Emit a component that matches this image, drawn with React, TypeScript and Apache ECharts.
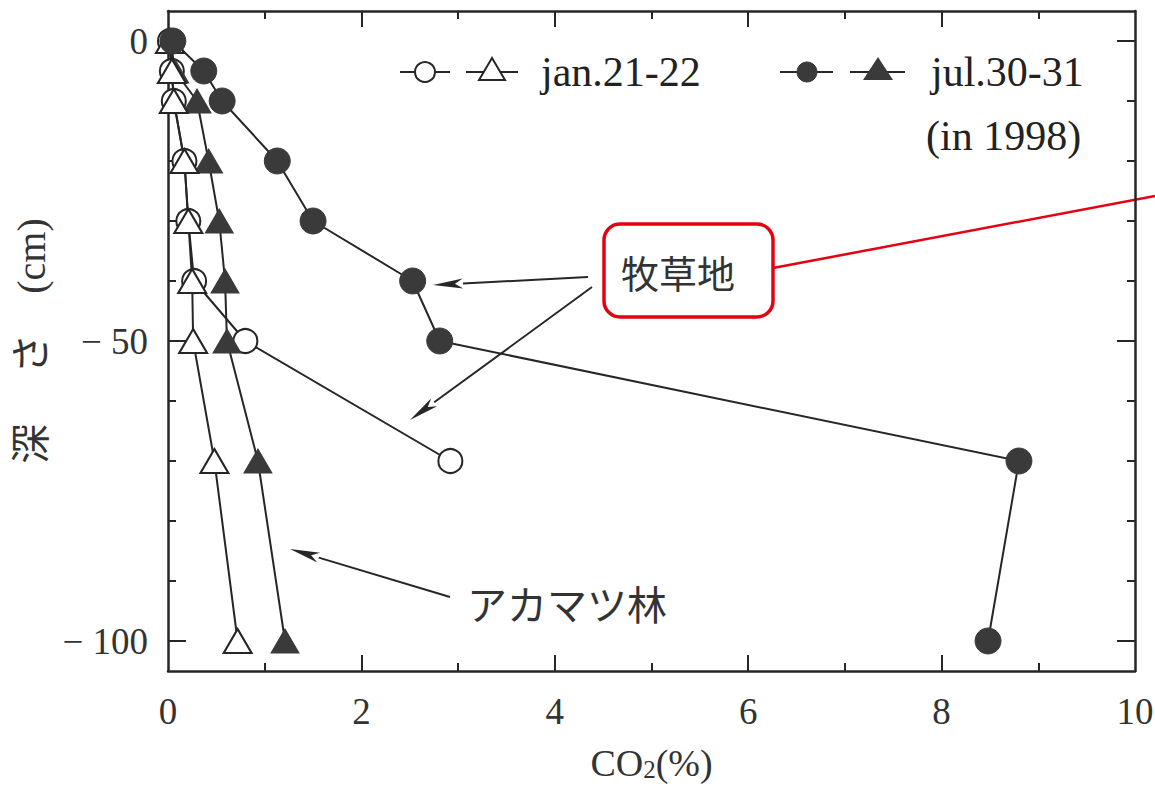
import React, { useEffect, useRef } from 'react';
import * as echarts from 'echarts';

// ---- data ----
const depths = [0, -5, -10, -20, -30, -40, -50, -70, -100];
const janGrassDepths = [0, -5, -10, -20, -30, -40, -50, -70];
const janGrassCO2 = [0.02, 0.04, 0.06, 0.17, 0.21, 0.27, 0.8, 2.92];
const janPineCO2 = [0.02, 0.04, 0.06, 0.17, 0.21, 0.25, 0.26, 0.48, 0.72];
const julGrassCO2 = [0.05, 0.37, 0.56, 1.13, 1.5, 2.53, 2.81, 8.8, 8.48];
const julPineCO2 = [0.03, 0.07, 0.3, 0.42, 0.53, 0.59, 0.61, 0.93, 1.21];

const xTickLabels = [0, 2, 4, 6, 8, 10];
const xMajorTicks = [2, 4, 6, 8];
const xMinorTicks = [1, 3, 5, 7, 9];
const yTickLabels = [0, -50, -100];
const yMinorTicks = [-10, -20, -30, -40, -60, -70, -80, -90];

const legendJan = 'jan.21-22';
const legendJul = 'jul.30-31';
const legendYear = '(in 1998)';
const labelGrass = '牧草地';
const labelPine = 'アカマツ林';

const INK = '#262626';
const SERIF = "'Liberation Serif', 'DejaVu Serif', serif";
const CJK = "'Liberation Serif', 'Noto Sans CJK JP', sans-serif";
const RED = '#e60012';

function zip(xs: number[], ys: number[]) {
  return xs.map((x, i) => [x, ys[i]]);
}

function arrow(x1: number, y1: number, x2: number, y2: number) {
  const dx = x2 - x1;
  const dy = y2 - y1;
  const len = Math.sqrt(dx * dx + dy * dy);
  const ux = dx / len;
  const uy = dy / len;
  const hl = 30;
  const hw = 5;
  const bx = x2 - ux * hl;
  const by = y2 - uy * hl;
  return [
    { type: 'line', shape: { x1, y1, x2: bx, y2: by }, style: { stroke: INK, lineWidth: 2 } },
    {
      type: 'polygon',
      shape: {
        points: [
          [x2, y2],
          [bx - uy * hw, by + ux * hw],
          [bx + ux * 8, by + uy * 8],
          [bx + uy * hw, by - ux * hw],
        ],
      },
      style: { fill: INK },
    },
  ];
}

export default function App() {
  const ref = useRef<HTMLDivElement>(null);

  useEffect(() => {
    document.body.style.margin = '0';
    if (!ref.current) return;
    const chart = echarts.init(ref.current, null, { renderer: 'svg' });

    const frameLine = { show: true, onZero: false, lineStyle: { color: INK, width: 2.5 } };
    const noLine = { show: false, onZero: false };
    const common = { type: 'value', splitLine: { show: false } };
    const tickStyle = { color: INK, width: 2 };

    const xAxes = [
      {
        ...common, position: 'bottom', min: 0, max: 10,
        axisLine: frameLine,
        axisTick: { show: true, inside: true, length: 16, customValues: xMajorTicks, lineStyle: tickStyle },
        axisLabel: { show: true, customValues: xTickLabels, margin: 22, fontSize: 37, fontFamily: SERIF, color: '#333' },
        name: '{a|CO}{b|2}{a|(%)}',
        nameLocation: 'middle',
        nameGap: 71,
        nameTextStyle: {
          rich: {
            a: { fontSize: 38, fontFamily: SERIF, color: '#333', lineHeight: 40, verticalAlign: 'bottom' },
            b: { fontSize: 25, fontFamily: SERIF, color: '#333', lineHeight: 8, verticalAlign: 'bottom' },
          },
        },
      },
      {
        ...common, position: 'bottom', min: 0, max: 10,
        axisLine: noLine,
        axisTick: { show: true, inside: true, length: 8, customValues: xMinorTicks, lineStyle: tickStyle },
        axisLabel: { show: false },
      },
      {
        ...common, position: 'top', min: 0, max: 10,
        axisLine: frameLine,
        axisTick: { show: true, inside: true, length: 16, customValues: xMajorTicks, lineStyle: tickStyle },
        axisLabel: { show: false },
      },
      {
        ...common, position: 'top', min: 0, max: 10,
        axisLine: noLine,
        axisTick: { show: true, inside: true, length: 8, customValues: xMinorTicks, lineStyle: tickStyle },
        axisLabel: { show: false },
      },
    ];

    const yAxes = [
      {
        ...common, position: 'left', min: -105, max: 5,
        axisLine: frameLine,
        axisTick: { show: true, inside: true, length: 18, customValues: yTickLabels, lineStyle: tickStyle },
        axisLabel: {
          show: true, customValues: yTickLabels, margin: 20, fontSize: 37, fontFamily: SERIF, color: '#333',
          formatter: (v: number) => (v === 0 ? '0' : '\u2212 ' + Math.abs(v)),
        },
        name: '深\u3000 さ\u3000(cm)',
        nameLocation: 'middle',
        nameRotate: 90,
        nameGap: 112,
        nameTextStyle: { fontSize: 40, fontFamily: CJK, color: '#333' },
      },
      {
        ...common, position: 'left', min: -105, max: 5,
        axisLine: noLine,
        axisTick: { show: true, inside: true, length: 8, customValues: yMinorTicks, lineStyle: tickStyle },
        axisLabel: { show: false },
      },
      {
        ...common, position: 'right', min: -105, max: 5,
        axisLine: frameLine,
        axisTick: { show: true, inside: true, length: 18, customValues: yTickLabels, lineStyle: tickStyle },
        axisLabel: { show: false },
      },
      {
        ...common, position: 'right', min: -105, max: 5,
        axisLine: noLine,
        axisTick: { show: true, inside: true, length: 8, customValues: yMinorTicks, lineStyle: tickStyle },
        axisLabel: { show: false },
      },
    ];

    const lineStyle = { color: INK, width: 2 };
    const openItem = { color: '#ffffff', borderColor: INK, borderWidth: 2 };
    const filledItem = { color: '#3a3a3a', borderColor: '#3a3a3a', borderWidth: 1 };

    const series = [
      {
        name: 'jan-grass', type: 'line', xAxisIndex: 0, yAxisIndex: 0,
        data: zip(janGrassCO2, janGrassDepths), symbol: 'circle', symbolSize: 24,
        lineStyle, itemStyle: openItem, z: 2,
      },
      {
        name: 'jul-pine', type: 'line', xAxisIndex: 0, yAxisIndex: 0,
        data: zip(julPineCO2, depths), symbol: 'triangle', symbolSize: [28, 24],
        lineStyle, itemStyle: filledItem, z: 3,
      },
      {
        name: 'jan-pine', type: 'line', xAxisIndex: 0, yAxisIndex: 0,
        data: zip(janPineCO2, depths), symbol: 'triangle', symbolSize: [28, 24],
        lineStyle, itemStyle: openItem, z: 4,
      },
      {
        name: 'jul-grass', type: 'line', xAxisIndex: 0, yAxisIndex: 0,
        data: zip(julGrassCO2, depths), symbol: 'circle', symbolSize: 26,
        lineStyle, itemStyle: filledItem, z: 6,
      },
    ];

    const legendY = 72;
    const graphic: any[] = [
      // legend: jan
      { type: 'line', shape: { x1: 400, y1: legendY, x2: 450, y2: legendY }, style: { stroke: INK, lineWidth: 2 } },
      { type: 'circle', shape: { cx: 425, cy: legendY, r: 10 }, style: { fill: '#fff', stroke: INK, lineWidth: 2 } },
      { type: 'line', shape: { x1: 466, y1: legendY, x2: 518, y2: legendY }, style: { stroke: INK, lineWidth: 2 } },
      { type: 'polygon', shape: { points: [[492, legendY - 14], [479, legendY + 8], [505, legendY + 8]] }, style: { fill: '#fff', stroke: INK, lineWidth: 2 } },
      { type: 'text', x: 541, y: legendY, style: { text: legendJan, fontSize: 42, fontFamily: SERIF, fill: '#222', verticalAlign: 'middle', align: 'left' } },
      // legend: jul
      { type: 'line', shape: { x1: 780, y1: legendY, x2: 833, y2: legendY }, style: { stroke: INK, lineWidth: 2 } },
      { type: 'circle', shape: { cx: 807, cy: legendY, r: 10 }, style: { fill: '#3a3a3a', stroke: '#3a3a3a', lineWidth: 1 } },
      { type: 'line', shape: { x1: 850, y1: legendY, x2: 905, y2: legendY }, style: { stroke: INK, lineWidth: 2 } },
      { type: 'polygon', shape: { points: [[878, legendY - 15], [863, legendY + 8], [893, legendY + 8]] }, style: { fill: '#3a3a3a' } },
      { type: 'text', x: 931, y: legendY, style: { text: legendJul, fontSize: 42, fontFamily: SERIF, fill: '#222', verticalAlign: 'middle', align: 'left' } },
      { type: 'text', x: 926, y: 136, style: { text: legendYear, fontSize: 42, fontFamily: SERIF, fill: '#222', verticalAlign: 'middle', align: 'left' } },
      // 牧草地 label
      { type: 'text', x: 678, y: 271, style: { text: labelGrass, fontSize: 38, fontFamily: "'Noto Sans CJK JP', sans-serif", fill: '#333', verticalAlign: 'middle', align: 'center' } },
      { type: 'rect', shape: { x: 604, y: 224, width: 169, height: 93, r: 16 }, style: { fill: 'none', stroke: RED, lineWidth: 3.5 } },
      { type: 'line', shape: { x1: 773, y1: 268, x2: 1155, y2: 196 }, style: { stroke: RED, lineWidth: 2.5 } },
      ...arrow(588, 277, 433, 285),
      ...arrow(592, 287, 410, 420),
      // アカマツ林 label
      { type: 'text', x: 467, y: 603, style: { text: labelPine, fontSize: 40, fontFamily: "'Noto Sans CJK JP', sans-serif", fill: '#333', verticalAlign: 'middle', align: 'left' } },
      ...arrow(450, 597, 290, 549),
    ];

    chart.setOption({
      animation: false,
      backgroundColor: '#ffffff',
      grid: { left: 168, right: 20, top: 11, bottom: 117, containLabel: false, outerBoundsMode: 'none' },
      xAxis: xAxes,
      yAxis: yAxes,
      series,
      graphic,
    });

    return () => chart.dispose();
  }, []);

  return <div ref={ref} style={{ width: 1155, height: 788 }} />;
}
